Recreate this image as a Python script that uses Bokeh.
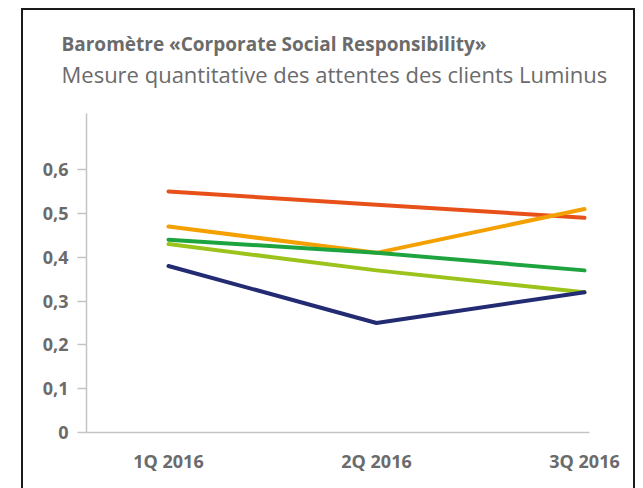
from bokeh.plotting import figure
from bokeh.models import Range1d, FixedTicker, Title
from bokeh.embed import file_html
from bokeh.resources import INLINE

quarters = ["1Q 2016", "2Q 2016", "3Q 2016"]
red_series = [0.55, 0.52, 0.49]
orange_series = [0.47, 0.41, 0.51]
green_series = [0.44, 0.41, 0.37]
lime_series = [0.43, 0.37, 0.32]
navy_series = [0.38, 0.25, 0.32]
y_ticks = [0, 0.1, 0.2, 0.3, 0.4, 0.5, 0.6]
y_tick_labels = ["0", "0,1", "0,2", "0,3", "0,4", "0,5", "0,6"]

FONT = "Open Sans"
GREY = "#6b6b6b"
AXIS_GREY = "#c4c4c4"

x_idx = list(range(len(quarters)))

p = figure(width=610, height=478,
           x_range=Range1d(-0.394, 2.024), y_range=Range1d(0, 0.728),
           output_backend="svg", toolbar_location=None,
           min_border_left=63, min_border_right=44, min_border_bottom=56,
           min_border_top=103)
p.margin = (10, 0, 0, 23)
p.styles = {"box-shadow": "0 0 0 2px #1a1a1a"}

# main title (outermost)
p.title.text = "Baromètre «Corporate Social Responsibility»"
p.title.text_font = FONT
p.title.text_font_size = "19px"
p.title.text_font_style = "bold"
p.title.text_color = GREY
p.title.align = "left"
p.title.offset = -25
p.title.standoff = 0

# spacer panel between the frame and the subtitle (closest to frame)
p.add_layout(Title(text=" ", text_font_size="1px", standoff=22), "above")
# subtitle
p.add_layout(Title(text="Mesure quantitative des attentes des clients Luminus",
                   text_font=FONT, text_font_size="22px", text_font_style="normal",
                   text_color=GREY, align="left", offset=-25, standoff=0), "above")

p.outline_line_color = None
p.grid.visible = False
p.background_fill_color = "white"
p.border_fill_color = "white"

for ys, col in [(red_series, "#e8501a"), (orange_series, "#f4a000"),
                (green_series, "#1ea43f"), (lime_series, "#9cc31c"),
                (navy_series, "#232b72")]:
    p.line(x_idx, ys, line_color=col, line_width=4, line_cap="round", line_join="round")

# y axis
ya = p.yaxis[0]
ya.ticker = FixedTicker(ticks=y_ticks)
ya.major_label_overrides = {t: l for t, l in zip(y_ticks, y_tick_labels)}
ya.minor_tick_line_color = None
ya.major_tick_in = 0
ya.major_tick_out = 9
ya.major_tick_line_color = AXIS_GREY
ya.major_tick_line_width = 1.5
ya.axis_line_color = AXIS_GREY
ya.axis_line_width = 1.5
ya.major_label_text_font = FONT
ya.major_label_text_font_style = "bold"
ya.major_label_text_font_size = "18px"
ya.major_label_text_color = GREY
ya.major_label_standoff = 9

# x axis
xa = p.xaxis[0]
xa.ticker = FixedTicker(ticks=x_idx)
xa.major_label_overrides = {i: q for i, q in zip(x_idx, quarters)}
xa.minor_tick_line_color = None
xa.major_tick_line_color = None
xa.axis_line_color = AXIS_GREY
xa.axis_line_width = 1.5
xa.major_label_text_font = FONT
xa.major_label_text_font_style = "bold"
xa.major_label_text_font_size = "18px"
xa.major_label_text_color = GREY
xa.major_label_standoff = 10

open("out.html", "w").write(file_html(p, INLINE))
